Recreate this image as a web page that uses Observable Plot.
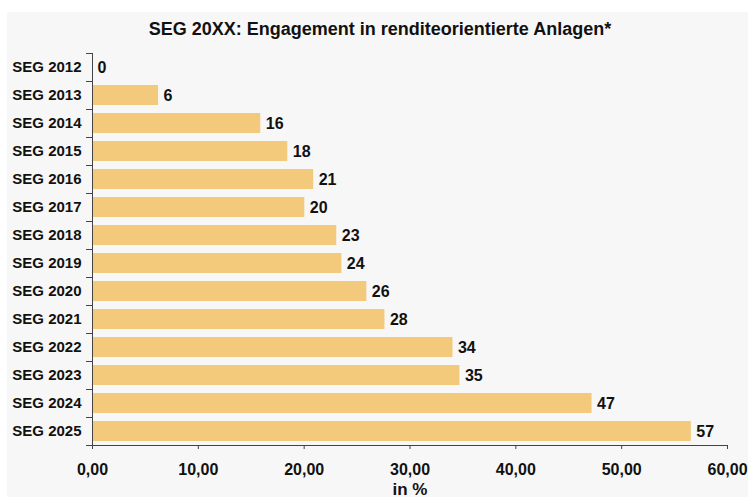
<!DOCTYPE html>
<html>
<head>
<meta charset="utf-8">
<script src="https://cdn.jsdelivr.net/npm/d3@7"></script>
<script src="https://cdn.jsdelivr.net/npm/@observablehq/plot@0.6"></script>
<style>
  html, body { margin: 0; padding: 0; background: #ffffff; }
  #wrap { position: absolute; left: 7px; top: 12px; width: 741px; height: 485px; background: #f7f7f7; font-family: "Liberation Sans", Arial, sans-serif; }
  #title { box-sizing: border-box; height: 29px; padding-top: 5px; padding-left: 5px; text-align: center; font-weight: bold; font-size: 18px; line-height: 24px; color: #111; white-space: nowrap; }
  svg { display: block; }
</style>
</head>
<body>
<div id="wrap">
  <div id="title">SEG 20XX: Engagement in renditeorientierte Anlagen*</div>
  <div id="chart"></div>
</div>
<script>
const categories = ["SEG 2012","SEG 2013","SEG 2014","SEG 2015","SEG 2016","SEG 2017","SEG 2018","SEG 2019","SEG 2020","SEG 2021","SEG 2022","SEG 2023","SEG 2024","SEG 2025"];
const values = [0, 6.24, 15.9, 18.45, 20.9, 20.06, 23.08, 23.56, 25.92, 27.63, 34.06, 34.72, 47.2, 56.58];
const xTicks = [0, 10, 20, 30, 40, 50, 60];

const data = categories.map((c, i) => ({cat: c, value: values[i]}));

const W = 741, H = 456, mT = 12, mB = 52, mL = 85, mR = 21;
const step = (H - mT - mB) / categories.length;
const fmt = d => d.toFixed(2).replace(".", ",");

const chart = Plot.plot({
  width: W,
  height: H,
  marginTop: mT,
  marginBottom: mB,
  marginLeft: mL,
  marginRight: mR,
  style: { background: "transparent", fontFamily: "'Liberation Sans', Arial, sans-serif", color: "#111" },
  x: { domain: [0, 60], ticks: xTicks },
  y: { domain: categories, paddingInner: 0.28, paddingOuter: 0.14 },
  marks: [
    Plot.barX(data, { x: "value", y: "cat", fill: "#f3c97b" }),
    Plot.text(data, { x: "value", y: "cat", text: d => String(Math.round(d.value)), textAnchor: "start", dx: 5, fontWeight: "bold", fontSize: 16, fill: "#111" }),
    Plot.ruleY(categories, { y: d => d, x1: 0, x2: 0, insetLeft: -6, dy: -step / 2, stroke: "#444" }),
    Plot.ruleY(categories.slice(-1), { y: d => d, x1: 0, x2: 0, insetLeft: -6, dy: step / 2, stroke: "#444" }),
    Plot.ruleX([0], { stroke: "#444" }),
    Plot.frame({ anchor: "bottom", stroke: "#444" }),
    Plot.axisY({ tickSize: 0, tickPadding: 11, label: null, fontWeight: "bold", fontSize: 15, fill: "#111" }),
    Plot.axisX({ ticks: xTicks, tickSize: 4, tickPadding: 14, tickFormat: fmt, fontWeight: "bold", fontSize: 16, fill: "#111", stroke: "#444",
                 label: null }),
    Plot.axisX({ ticks: [], label: "in %", labelAnchor: "center", labelArrow: "none", labelOffset: 49, fontWeight: "bold", fontSize: 17, fill: "#111" })
  ]
});
document.getElementById("chart").appendChild(chart);
</script>
</body>
</html>
